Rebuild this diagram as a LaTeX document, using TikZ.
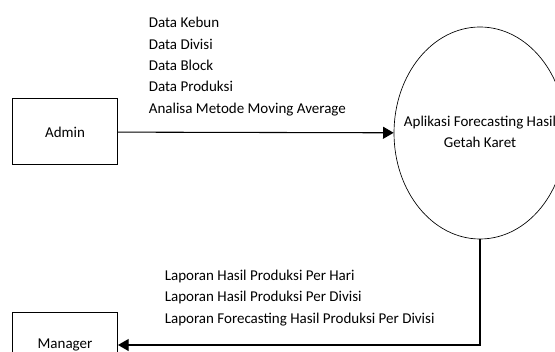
\documentclass[tikz,border=0pt]{standalone}
\usepackage{fontspec}
\setmainfont{Carlito}
\usetikzlibrary{positioning,arrows.meta,shapes.geometric}

\begin{document}
\begin{tikzpicture}[x=0.75pt,y=-0.75pt,>={Triangle[length=8pt,width=9pt]},
    font=\fontsize{11.25}{16}\selectfont,
    entity/.style={rectangle,draw,line width=0.75pt,minimum width=78.75pt,minimum height=49.5pt},
    process/.style={ellipse,draw,line width=0.5pt,minimum width=129pt,minimum height=159pt,inner sep=0pt},
    flow/.style={->,line width=0.8pt},
    flowtext/.style={align=left,anchor=west,inner sep=0pt}]
    \useasboundingbox (0,0) rectangle (555,352);
    \clip (0,0) rectangle (555,352);

    \node[entity] (admin) at (65,132) {Admin};
    \node[entity] (manager) at (65,345) {Manager};
    \node[process] (app) at (480,133) {};
    \node[align=center,inner sep=0pt] (apptext) at (480,132) {Aplikasi Forecasting Hasil\\Getah Karet};
    \coordinate (turn) at (app.south |- manager.east);

    \draw[flow] (admin) -- (app);
    \draw[flow] (app.south) -- (turn) -- (manager.east);

    \node[flowtext] (input) at (148.6,66.5)
    {Data Kebun\\Data Divisi\\Data Block\\Data Produksi\\Analisa Metode Moving Average};
    \node[flowtext] (output) at (164.5,298)
    {Laporan Hasil Produksi Per Hari\\Laporan Hasil Produksi Per Divisi\\Laporan Forecasting Hasil Produksi Per Divisi};
\end{tikzpicture}
\end{document}
